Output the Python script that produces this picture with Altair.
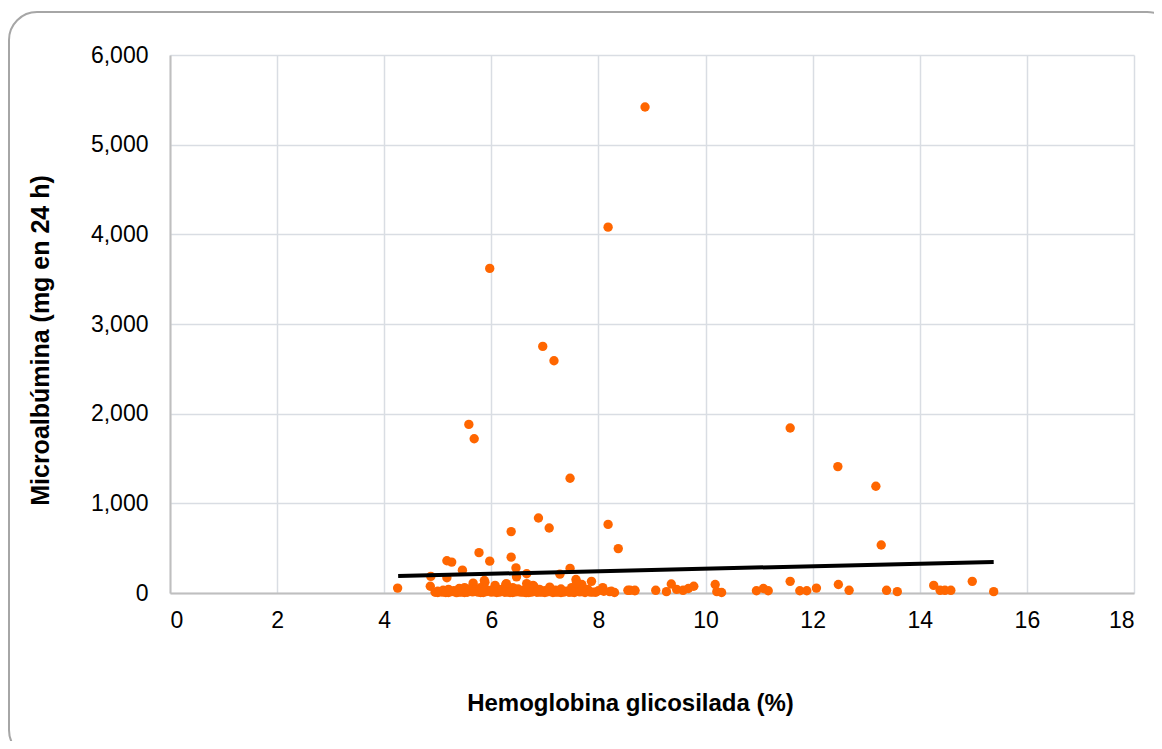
import altair as alt
import pandas as pd

# Hemoglobina glicosilada (%) and Microalbúmina (mg en 24 h)
hba1c = [
    8.87, 8.18, 5.97, 6.96, 7.17, 5.58, 5.68, 11.58, 12.47, 13.18, 7.47,
    13.28, 6.88, 7.08, 6.37, 8.18, 8.37, 5.77, 6.37, 5.97, 5.17, 5.26,
    5.46, 7.47, 6.46, 6.66, 7.28, 4.25, 4.87, 4.86, 5.17, 5.66, 5.87,
    6.07, 6.27, 6.47, 6.66, 7.58, 7.69, 7.87, 8.08, 8.21, 8.55, 8.68,
    5.88, 6.28, 6.78, 7.09, 8.24, 7.59,
    8.59, 8.68, 9.07, 9.27, 9.36, 9.46, 9.58, 9.68, 9.78,
    10.18, 10.21, 10.30, 10.95, 11.08, 11.17, 11.58, 11.76, 11.89, 12.07,
    12.48, 12.68, 13.38, 13.58, 14.26, 14.38, 14.47, 14.58, 14.98, 15.38,
    5.0, 5.0, 5.1, 5.1, 5.2, 5.2, 5.3, 5.3, 5.4, 5.4, 5.5, 5.5, 5.5,
    5.6, 5.6, 5.7, 5.8, 5.8, 5.8, 5.9, 5.9, 6.0, 6.0, 6.1, 6.1, 6.2, 6.2,
    6.3, 6.4, 6.4, 6.4, 6.5, 6.5, 6.6, 6.6, 6.7, 6.7, 6.8, 6.8, 6.9, 6.9,
    7.0, 7.0, 7.1, 7.1, 7.2, 7.2, 7.3, 7.3, 7.4, 7.5, 7.5, 7.6, 7.7, 7.8,
    7.9, 8.0, 5.75, 6.15, 6.55, 6.95, 7.35,
    4.95, 5.05, 5.15, 5.25, 5.35, 5.45, 5.55, 5.65, 5.85, 6.05, 6.25,
    6.35, 6.45, 6.65, 6.75, 6.85, 7.05, 7.15, 7.25, 7.45, 7.55, 7.65,
    7.75, 7.85, 7.95, 8.1, 8.3,
]
micro = [
    5420, 4080, 3620, 2750, 2590, 1880, 1720, 1840, 1410, 1190, 1280,
    535, 836, 725, 685, 765, 495, 450, 400, 355, 360, 345,
    255, 275, 280, 215, 210, 55, 185, 75, 170, 110, 140,
    85, 95, 180, 105, 150, 95, 130, 60, 15, 30, 30,
    120, 105, 85, 65, 20, 125,
    30, 25, 30, 15, 100, 40, 30, 50, 75,
    95, 15, 5, 25, 50, 25, 130, 25, 25, 55,
    95, 30, 30, 15, 85, 30, 30, 30, 130, 15,
    5, 20, 10, 30, 5, 40, 15, 25, 10, 50, 5, 30, 60,
    20, 45, 35, 5, 25, 60, 15, 40, 10, 30, 5, 50, 20, 40,
    10, 5, 30, 60, 15, 45, 10, 30, 5, 50, 20, 70, 10, 40,
    5, 25, 15, 50, 10, 30, 5, 45, 20, 10, 60, 30, 15, 40,
    10, 25, 10, 10, 10, 10, 10,
    8, 12, 6, 15, 4, 10, 8, 12, 5, 14, 8,
    6, 12, 4, 10, 8, 14, 6, 10, 8, 5, 12,
    6, 10, 8, 20, 5,
]

trend_x = [4.26, 15.38]
trend_y = [190, 346]

pts = pd.DataFrame({"x": hba1c, "y": micro})
trend = pd.DataFrame({"x": trend_x, "y": trend_y})

xscale = alt.Scale(domain=[0, 18], nice=False, zero=False)
yscale = alt.Scale(domain=[0, 6000], nice=False)

xaxis = alt.Axis(
    title="Hemoglobina glicosilada (%)",
    values=list(range(0, 19, 2)),
    format="d",
    grid=True,
    gridColor="#d9dde3",
    gridWidth=1.5,
    domainColor="#bfbfbf",
    domainWidth=2,
    ticks=False,
    labelPadding=16,
    labelFontSize=23,
    labelColor="#000000",
    labelFont="Liberation Sans",
    titleFont="Liberation Sans",
    titleFontSize=24,
    titleFontWeight="bold",
    titleColor="#000000",
    titleX=460,
    titleY=110,
    titleBaseline="middle",
    titleAlign="center",
)
yaxis = alt.Axis(
    title="Microalbúmina (mg en 24 h)",
    values=list(range(0, 6001, 1000)),
    format=",d",
    grid=True,
    gridColor="#d9dde3",
    gridWidth=1.5,
    domainColor="#bfbfbf",
    domainWidth=2,
    ticks=False,
    labelPadding=22,
    labelFontSize=23,
    labelColor="#000000",
    labelFont="Liberation Sans",
    titleFont="Liberation Sans",
    titleFontSize=25,
    titleFontWeight="bold",
    titleColor="#000000",
    titleX=-130,
    titleY=285,
    titleBaseline="middle",
    titleAlign="center",
    titleAngle=270,
)

frame = alt.Chart(pd.DataFrame({"a": [0]})).mark_rect(
    fill="transparent", stroke="#a6a6a6", strokeWidth=2, cornerRadius=28, clip=False
).encode(
    x=alt.value(-161), x2=alt.value(1005), y=alt.value(-43), y2=alt.value(703)
)

points = alt.Chart(pts).mark_circle(size=88, color="#FF6600", opacity=1).encode(
    x=alt.X("x:Q", scale=xscale, axis=xaxis),
    y=alt.Y("y:Q", scale=yscale, axis=yaxis),
)

line = alt.Chart(trend).mark_line(color="#000000", strokeWidth=4).encode(
    x=alt.X("x:Q", scale=xscale),
    y=alt.Y("y:Q", scale=yscale),
)

chart = alt.layer(frame, points, line).properties(
    width=964,
    height=538,
    autosize=alt.AutoSizeParams(type="none"),
    padding={"left": 162, "top": 47, "right": 20, "bottom": 148},
    background="#ffffff",
).configure_view(stroke=None)

chart.save("out.html", embed_options={"renderer": "svg", "actions": False})
